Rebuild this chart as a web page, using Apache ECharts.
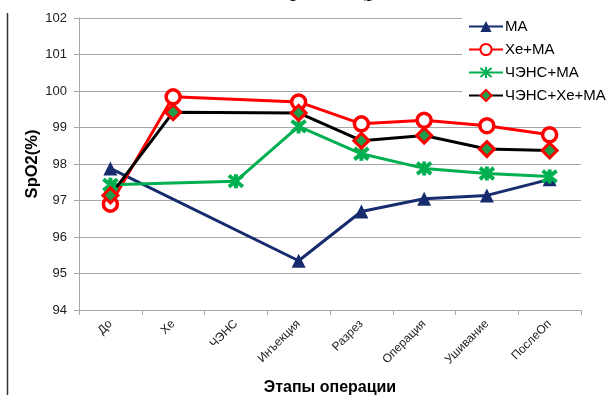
<!DOCTYPE html>
<html>
<head>
<meta charset="utf-8">
<script src="https://cdn.jsdelivr.net/npm/echarts@6/dist/echarts.min.js"></script>
<style>
html,body{margin:0;padding:0;background:#fff;}
#c{width:606px;height:395px;}
</style>
</head>
<body>
<div id="c"></div>
<script>
const categories = ['До', 'Хе', 'ЧЭНС', 'Инъекция', 'Разрез', 'Операция', 'Ушивание', 'ПослеОп'];
const seriesNames = ['МА', 'Хе+МА', 'ЧЭНС+МА', 'ЧЭНС+Хе+МА'];
const valuesMA = [97.88, null, null, 95.35, 96.7, 97.05, 97.14, 97.58];
const valuesXeMA = [96.9, 99.84, null, 99.7, 99.1, 99.2, 99.05, 98.8];
const valuesChensMA = [97.43, null, 97.53, 99.03, 98.28, 97.88, 97.74, 97.66];
const valuesChensXeMA = [97.14, 99.42, null, 99.4, 98.64, 98.78, 98.41, 98.37];
const yTicks = [94, 95, 96, 97, 98, 99, 100, 101, 102];

const chart = echarts.init(document.getElementById('c'), null, {renderer: 'canvas'});
const font = 'Arial, "Liberation Sans", sans-serif';
const asterisk = 'path://M1,1L9,9M9,1L1,9M5,0L5,10';

chart.setOption({
  animation: false,
  backgroundColor: '#fff',
  textStyle: {fontFamily: font},
  grid: {left: 79, right: 25, top: 18, bottom: 85, containLabel: false, outerBoundsMode: 'none'},
  legend: {
    orient: 'vertical',
    left: 462,
    top: 13,
    padding: [6, 2, 6, 6],
    backgroundColor: '#fff',
    itemWidth: 34,
    itemHeight: 14,
    itemGap: 8,
    textStyle: {fontSize: 15, color: '#000', fontFamily: font, padding: [0, 0, 0, -3]},
    data: seriesNames
  },
  xAxis: {
    type: 'category',
    data: categories,
    boundaryGap: true,
    name: 'Этапы операции',
    nameLocation: 'middle',
    nameGap: 70,
    nameMoveOverlap: false,
    nameTextStyle: {fontSize: 16, fontWeight: 'bold', color: '#000', fontFamily: font},
    axisLine: {lineStyle: {color: '#a6a6a6', width: 1}},
    axisTick: {show: true, length: 5, alignWithLabel: false, lineStyle: {color: '#a6a6a6'}},
    axisLabel: {rotate: 45, fontSize: 12, color: '#222', margin: 12, interval: 0, fontFamily: font},
    splitLine: {show: false}
  },
  yAxis: {
    type: 'value',
    min: yTicks[0],
    max: yTicks[yTicks.length - 1],
    interval: 1,
    name: 'SpO2(%)',
    nameLocation: 'middle',
    nameGap: 38,
    nameMoveOverlap: false,
    nameTextStyle: {fontSize: 16.5, fontWeight: 'bold', color: '#000', fontFamily: font},
    axisLine: {show: true, lineStyle: {color: '#a6a6a6', width: 1}},
    axisTick: {show: true, length: 5, inside: false, lineStyle: {color: '#a6a6a6'}},
    axisLabel: {fontSize: 13, color: '#222', margin: 12, fontFamily: font},
    splitLine: {show: true, lineStyle: {color: '#a6a6a6', width: 1}}
  },
  series: [
    {
      name: seriesNames[0], type: 'line', data: valuesMA, connectNulls: true,
      color: '#172c6e',
      lineStyle: {width: 3, color: '#172c6e'},
      symbol: 'triangle', symbolSize: 14,
      itemStyle: {color: '#172c6e'}
    },
    {
      name: seriesNames[1], type: 'line', data: valuesXeMA, connectNulls: true,
      color: '#ff0000',
      lineStyle: {width: 3, color: '#ff0000'},
      symbol: 'circle', symbolSize: 14,
      itemStyle: {color: '#ffffff', borderColor: '#ff0000', borderWidth: 3.5}
    },
    {
      name: seriesNames[2], type: 'line', data: valuesChensMA, connectNulls: true,
      color: '#00b050',
      lineStyle: {width: 3, color: '#00b050'},
      symbol: asterisk, symbolSize: 14,
      itemStyle: {color: '#00b050', borderColor: '#00b050', borderWidth: 4}
    },
    {
      name: seriesNames[3], type: 'line', data: valuesChensXeMA, connectNulls: true,
      color: '#000000',
      lineStyle: {width: 3, color: '#000000'},
      symbol: 'diamond', symbolSize: 15,
      itemStyle: {color: '#1e9e4a', borderColor: '#ff0000', borderWidth: 3}
    }
  ],
  graphic: [
    {type: 'line', shape: {x1: 7.5, y1: 13, x2: 7.5, y2: 395}, style: {stroke: '#333', lineWidth: 1.5}, silent: true},
    {type: 'text', left: 290, top: -22, style: {text: 'р', font: '24px "Liberation Serif", "Times New Roman", serif', fill: '#000'}, silent: true},
    {type: 'text', left: 358, top: -22, style: {text: '(р', font: '24px "Liberation Serif", "Times New Roman", serif', fill: '#000'}, silent: true}
  ]
});
</script>
</body>
</html>
